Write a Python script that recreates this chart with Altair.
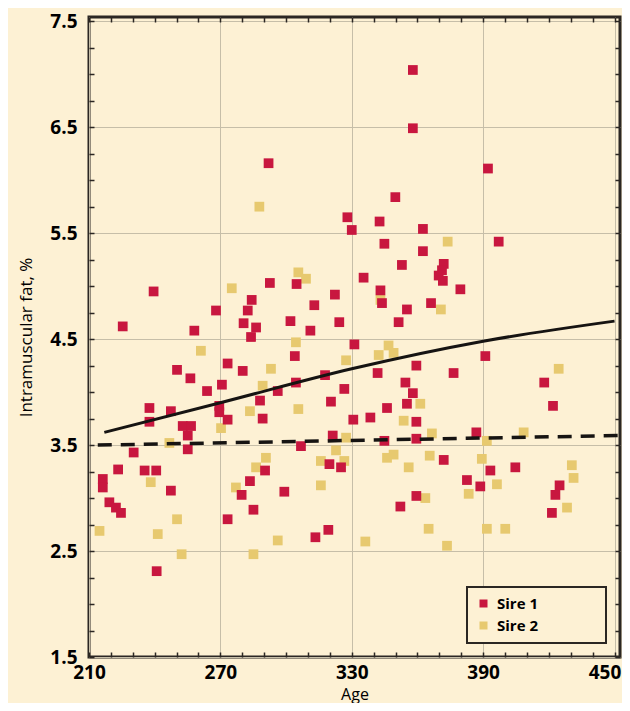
import altair as alt
import pandas as pd

BG = "#FDF1D4"
RED = "#C8173F"
YEL = "#E7C96F"
INK = "#2B2723"
GRID = "#C6BEA8"
FONT = "Open Sans"

sires = ["Sire 1", "Sire 2"]
x_ticks = [210, 270, 330, 390, 450]
y_ticks = [1.5, 2.5, 3.5, 4.5, 5.5, 6.5, 7.5]

sire1_age = [292, 328, 330, 239.5, 292.6, 304.8, 322.3, 312.9, 284.3, 282.5,
             268, 225.4, 258.1, 280.6, 286.3, 284, 302, 311.1, 324.3, 304,
             331.2, 357.9, 357.9, 392.2, 349.9, 342.7, 362.5, 397.1, 344.9, 362.5,
             352.9, 372, 371.2, 369.7, 371.6, 335.4, 343.1, 343.8, 379.6, 366.2,
             355.2, 351.4, 391, 273.3, 250.2, 256.3, 280.2, 270.7, 263.9, 296.2,
             304.5, 317.8, 326.6, 320.5, 330.7, 288.1, 289.3, 237.6, 237.6, 247.4,
             269.5, 269.5, 273.3, 252.8, 256.6, 255.1, 255.1, 230.4, 321.3, 306.8,
             223.3, 235.4, 240.7, 216.3, 216.3, 219.3, 222.3, 224.6, 247.4, 240.9,
             273.3, 283.5, 279.7, 285.1, 290.4, 299.2, 313.4, 319.3, 319.8, 325.1,
             359.5, 341.8, 376.5, 354.5, 357.9, 355.2, 346.1, 338.5, 359.5, 386.9,
             344.9, 359.5, 372, 393.3, 404.7, 382.6, 388.7, 359.5, 352.2, 417.9,
             421.9, 424.9, 423, 421.4]
sire1_fat = [6.16, 5.65, 5.53, 4.95, 5.03, 5.02, 4.92, 4.82, 4.87, 4.77,
             4.77, 4.62, 4.58, 4.65, 4.61, 4.52, 4.67, 4.58, 4.66, 4.34,
             4.45, 7.04, 6.49, 6.11, 5.84, 5.61, 5.54, 5.42, 5.40, 5.33,
             5.20, 5.21, 5.15, 5.10, 5.05, 5.08, 4.96, 4.84, 4.97, 4.84,
             4.78, 4.66, 4.34, 4.27, 4.21, 4.13, 4.20, 4.07, 4.01, 4.01,
             4.09, 4.16, 4.03, 3.91, 3.74, 3.92, 3.75, 3.85, 3.72, 3.82,
             3.87, 3.81, 3.74, 3.68, 3.68, 3.59, 3.46, 3.43, 3.59, 3.49,
             3.27, 3.26, 3.26, 3.18, 3.10, 2.96, 2.91, 2.86, 3.07, 2.31,
             2.80, 3.16, 3.03, 2.89, 3.26, 3.06, 2.63, 2.70, 3.32, 3.29,
             4.25, 4.18, 4.18, 4.09, 3.99, 3.89, 3.85, 3.76, 3.72, 3.62,
             3.54, 3.56, 3.36, 3.26, 3.29, 3.17, 3.11, 3.02, 2.92, 4.09,
             3.87, 3.12, 3.03, 2.86]

sire2_age = [287.8, 275.2, 305.6, 309.1, 304.5, 261.1, 373.8, 343.1, 370.7, 346.8,
             349.1, 342.3, 293.1, 289.3, 327.4, 305.6, 283.5, 270.3, 246.7, 327.4,
             322.8, 238.2, 214.8, 250.2, 241.4, 252.3, 277.1, 290.8, 286.3, 285.1,
             296.2, 315.9, 315.9, 326.6, 361.3, 353.7, 366.6, 391.7, 408.5, 346.1,
             349.1, 356, 365.6, 389.4, 396.3, 383.4, 363.6, 365.1, 373.5, 336.2,
             391.7, 400.1, 424.5, 430.5, 431.3, 428.3]
sire2_fat = [5.75, 4.98, 5.13, 5.07, 4.47, 4.39, 5.42, 4.87, 4.78, 4.44,
             4.37, 4.35, 4.22, 4.06, 4.30, 3.84, 3.82, 3.66, 3.52, 3.57,
             3.45, 3.15, 2.69, 2.80, 2.66, 2.47, 3.10, 3.38, 3.29, 2.47,
             2.60, 3.12, 3.35, 3.35, 3.89, 3.73, 3.61, 3.54, 3.62, 3.38,
             3.41, 3.29, 3.40, 3.37, 3.13, 3.04, 3.00, 2.71, 2.55, 2.59,
             2.71, 2.71, 4.22, 3.31, 3.19, 2.91]

fit1_age = [217, 270, 330, 390, 450]
fit1_fat = [3.62, 3.90, 4.22, 4.48, 4.67]
fit2_age = [214, 452.5]
fit2_fat = [3.50, 3.59]

pts = pd.concat([
    pd.DataFrame({"age": sire2_age, "fat": sire2_fat, "sire": sires[1]}),
    pd.DataFrame({"age": sire1_age, "fat": sire1_fat, "sire": sires[0]}),
], ignore_index=True)
fit1 = pd.DataFrame({"age": fit1_age, "fat": fit1_fat})
fit2 = pd.DataFrame({"age": fit2_age, "fat": fit2_fat})

xs = alt.Scale(domain=[210, 452.5], nice=False, zero=False)
ys = alt.Scale(domain=[1.5, 7.54], nice=False, zero=False)

y_minor = [1.5 + 0.25 * i for i in range(25)]
x_minor = [210 + 10 * i for i in range(25)]


def minor(orient, values):
    return alt.Axis(orient=orient, values=values, offset=-5, tickSize=5,
                    tickColor=INK, tickWidth=1.5, labels=False, domain=False,
                    grid=False, title=None)


main_x = alt.Axis(orient="bottom", values=x_ticks, grid=True, gridColor=GRID,
                  gridWidth=1, domain=False, ticks=False, labelFont=FONT,
                  labelFontSize=19, labelFontWeight="bold", labelColor="black",
                  labelPadding=6, labelFlush=False, labelOverlap=False,
                  labelBound=False,
                  labelOffset={"condition": {"test": "datum.value == 450",
                                             "value": -10},
                               "value": 0},
                  title="Age", titleFont=FONT, titleFontSize=16,
                  titleFontWeight="normal", titleColor="black", titlePadding=4)
main_y = alt.Axis(orient="left", values=y_ticks, format=".1f", grid=True,
                  gridColor=GRID, gridWidth=1, domain=False, ticks=False,
                  labelFont=FONT, labelFontSize=19, labelFontWeight="bold",
                  labelColor="black", labelPadding=12, labelFlush=False,
                  labelOverlap=False, title="Intramuscular fat, %",
                  titleFont=FONT, titleFontSize=17, titleFontWeight="normal",
                  titleColor="black", titlePadding=14)

legend = alt.Legend(orient="bottom-right", offset=14, title=None,
                    symbolType="square", symbolSize=64, symbolStrokeWidth=0,
                    labelFont=FONT, labelFontSize=15, labelFontWeight="bold",
                    labelColor="black", strokeColor=INK, fillColor=BG,
                    padding=9, rowPadding=6, labelOffset=6,
                    labelExpr="datum.label + '" + "\u00a0" * 15 + "\u200b'")

points = alt.Chart(pts).mark_square(size=95, opacity=1).encode(
    x=alt.X("age:Q", scale=xs, axis=main_x),
    y=alt.Y("fat:Q", scale=ys, axis=main_y),
    color=alt.Color("sire:N", scale=alt.Scale(domain=sires, range=[RED, YEL]),
                    legend=legend),
)

solid = alt.Chart(fit1).mark_line(color="#161412", strokeWidth=3,
                                  interpolate="monotone").encode(
    x=alt.X("age:Q", scale=xs, axis=minor("top", x_minor)),
    y=alt.Y("fat:Q", scale=ys, axis=minor("right", y_minor)),
)

dashed = alt.Chart(fit2).mark_line(color="#161412", strokeWidth=3.5,
                                   strokeDash=[14, 9]).encode(
    x=alt.X("age:Q", scale=xs, axis=minor("bottom", x_minor)),
    y=alt.Y("fat:Q", scale=ys, axis=minor("left", y_minor)),
)

chart = alt.layer(points, solid, dashed).resolve_axis(
    x="independent", y="independent"
).properties(
    width=531,
    height=640,
    autosize=alt.AutoSizeParams(type="none"),
    padding={"left": 81, "top": 9, "right": 2, "bottom": 46},
    background=BG,
    title=alt.TitleParams("two Angus sires", anchor="start", frame="group",
                          font=FONT, fontSize=18, fontWeight="bold",
                          color="black", baseline="alphabetic", offset=6,
                          dx=-81),
).configure_view(
    stroke=INK, strokeWidth=3, fill=BG
).configure_legend(strokeWidth=2)

chart.save("out.html", embed_options={"renderer": "svg", "actions": False})
